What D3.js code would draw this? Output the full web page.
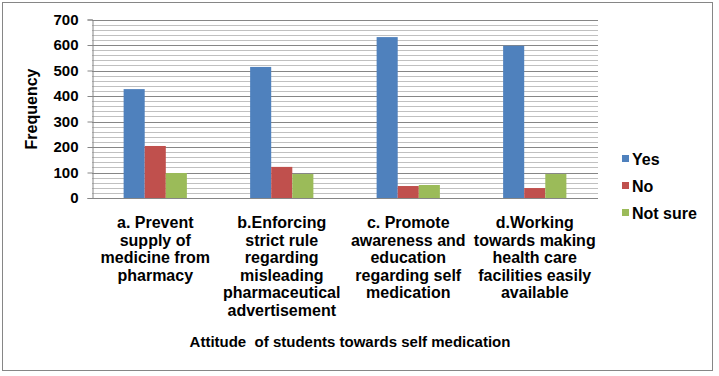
<!DOCTYPE html>
<html lang="en">
<head>
<meta charset="UTF-8">
<title>Attitude of students towards self medication</title>
<script src="https://d3js.org/d3.v7.min.js"></script>
<style>
    body { margin: 0; background: #fff; }
    svg { display: block; }
    text { font-family: "Liberation Sans", Arial, sans-serif; font-weight: bold; fill: #000; }
</style>
</head>
<body>
<script>
    // data
    const categories = ["a", "b", "c", "d"];
    const categoryLines = [
        ["a. Prevent", "supply of", "medicine from", "pharmacy"],
        ["b.Enforcing", "strict rule", "regarding", "misleading", "pharmaceutical", "advertisement"],
        ["c. Promote", "awareness and", "education", "regarding self", "medication"],
        ["d.Working", "towards making", "health care", "facilities easily", "available"]
    ];
    const seriesNames = ["Yes", "No", "Not sure"];
    const yesValues = [427, 514, 631, 597];
    const noValues = [204, 122, 47, 39];
    const notSureValues = [98, 94, 51, 94];
    const yTicks = [0, 100, 200, 300, 400, 500, 600, 700];
    const colors = ["#4f81bd", "#c0504d", "#9bbb59"];

    const width = 719, height = 376;
    const margin = { left: 92, right: 121, top: 19.5, bottom: 178 };

    const svg = d3.select("body").append("svg")
        .attr("width", width).attr("height", height);

    // outer frame
    svg.append("rect")
        .attr("x", 2.5).attr("y", 2.5)
        .attr("width", 710).attr("height", 368)
        .attr("fill", "#fff").attr("stroke", "#868686").attr("stroke-width", 1);

    const x0 = d3.scaleBand()
        .domain(categories)
        .range([margin.left, width - margin.right]);

    const x1 = d3.scaleBand()
        .domain(seriesNames)
        .range([0, x0.bandwidth() * 0.5]);

    const y = d3.scaleLinear()
        .domain([0, 700])
        .range([height - margin.bottom, margin.top]);

    // gridlines: minor every 20, major every 100
    const grid = svg.append("g");
    grid.selectAll("line.minor")
        .data(d3.range(20, 701, 20).filter(v => v % 100 !== 0))
        .enter().append("line")
        .attr("x1", margin.left).attr("x2", width - margin.right)
        .attr("y1", d => Math.round(y(d)) + 0.5).attr("y2", d => Math.round(y(d)) + 0.5)
        .attr("stroke", "#c0c0c0");
    grid.selectAll("line.major")
        .data(yTicks.slice(1))
        .enter().append("line")
        .attr("x1", margin.left).attr("x2", width - margin.right)
        .attr("y1", d => Math.round(y(d)) + 0.5).attr("y2", d => Math.round(y(d)) + 0.5)
        .attr("stroke", "#868686");

    // bars
    const series = [yesValues, noValues, notSureValues];
    const groups = svg.append("g").selectAll("g")
        .data(categories)
        .enter().append("g")
        .attr("transform", d => `translate(${x0(d) + x0.bandwidth() * 0.25},0)`);

    groups.selectAll("rect")
        .data((d, i) => seriesNames.map((s, j) => ({ s, v: series[j][i], j })))
        .enter().append("rect")
        .attr("x", d => x1(d.s))
        .attr("width", x1.bandwidth())
        .attr("y", d => y(d.v))
        .attr("height", d => y(0) - y(d.v))
        .attr("fill", d => colors[d.j]);

    // y axis
    const yAxis = svg.append("g")
        .attr("transform", `translate(${margin.left + 0.5},0)`)
        .call(d3.axisLeft(y).tickValues(yTicks).tickSize(5).tickPadding(9));
    yAxis.select(".domain").attr("stroke", "#868686");
    yAxis.selectAll(".tick line").attr("stroke", "#868686");
    yAxis.selectAll(".tick text").style("font-size", "15px").attr("fill", "#000");

    // x axis baseline
    svg.append("line")
        .attr("x1", margin.left).attr("x2", width - margin.right)
        .attr("y1", y(0) + 0.5).attr("y2", y(0) + 0.5)
        .attr("stroke", "#868686");

    // category labels
    svg.append("g").selectAll("text")
        .data(categories)
        .enter().append("text")
        .attr("text-anchor", "middle")
        .attr("y", 228)
        .style("font-size", "16px")
        .each(function (d, i) {
            d3.select(this).selectAll("tspan")
                .data(categoryLines[i])
                .enter().append("tspan")
                .attr("x", x0(d) + x0.bandwidth() / 2)
                .attr("dy", (t, k) => k === 0 ? 0 : 17.6)
                .text(t => t);
        });

    // axis titles
    svg.append("text")
        .attr("transform", "translate(37,109) rotate(-90)")
        .attr("text-anchor", "middle")
        .style("font-size", "16px")
        .text("Frequency");

    svg.append("text")
        .attr("x", 350).attr("y", 347)
        .attr("text-anchor", "middle")
        .style("font-size", "15px")
        .attr("xml:space", "preserve")
        .text("Attitude  of students towards self medication");

    // legend
    const legend = svg.append("g").selectAll("g")
        .data(seriesNames)
        .enter().append("g")
        .attr("transform", (d, i) => `translate(622,${159 + i * 27})`);
    legend.append("rect")
        .attr("x", 0).attr("y", -4)
        .attr("width", 7).attr("height", 7)
        .attr("fill", (d, i) => colors[i]);
    legend.append("text")
        .attr("x", 10).attr("y", 6)
        .style("font-size", "16px")
        .text(d => d);
</script>
</body>
</html>
